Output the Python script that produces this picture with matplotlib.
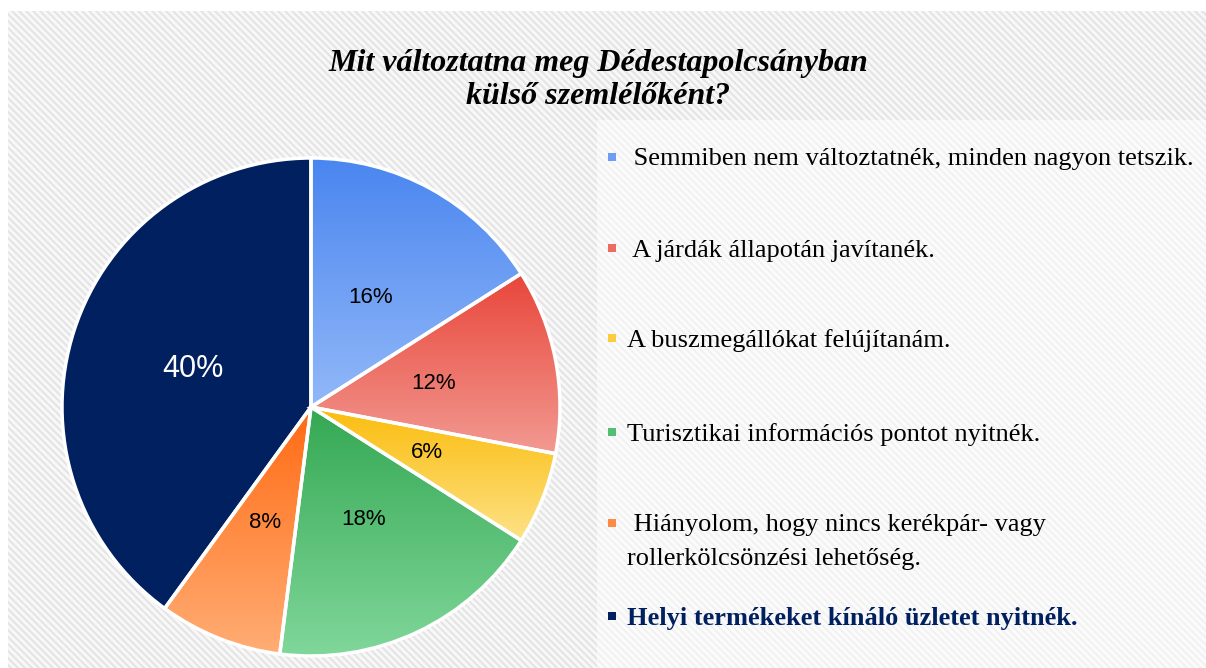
import numpy as np
import matplotlib
matplotlib.use("Agg")
import matplotlib.pyplot as plt
from matplotlib.colors import to_rgb
from matplotlib.patches import Rectangle

W, H = 1206, 668

# ── Data ──────────────────────────────────────────────
title = "Mit változtatna meg Dédestapolcsányban\nkülső szemlélőként?"
labels = [
    " Semmiben nem változtatnék, minden nagyon tetszik.",
    " A járdák állapotán javítanék.",
    "A buszmegállókat felújítanám.",
    "Turisztikai információs pontot nyitnék.",
    " Hiányolom, hogy nincs kerékpár- vagy\nrollerkölcsönzési lehetőség.",
    "Helyi termékeket kínáló üzletet nyitnék.",
]
shares = [16, 12, 6, 18, 8, 40]

# gradient colours per slice (top -> bottom)
top_colors = ["#4a86f0", "#e9463a", "#fbbc0c", "#34a853", "#ff6a12", "#00205f"]
bottom_colors = ["#92b8f8", "#f29a92", "#fde286", "#80d79a", "#ffad75", "#00205f"]
marker_colors = ["#6c9ff2", "#ec6c62", "#fccc40", "#56bd72", "#ff8a45", "#00205f"]


def px_x(x):
    return x / W


def px_y(y):
    return 1 - y / H


fig = plt.figure(figsize=(W / 100, H / 100), dpi=100)

# ── Striped background ────────────────────────────────
yy, xx = np.mgrid[0:H, 0:W]
stripe = ((xx - yy) % 7) < 3
bg = np.where(stripe, 0.9, 0.97)
legend_zone = (xx >= 597) & (yy >= 120)
bg = np.where(legend_zone, bg + (1 - bg) * 0.5, bg)
bg = np.where((xx < 8) | (yy < 11), 1.0, bg)
img = np.dstack([bg, bg, bg])
fig.figimage(img, xo=0, yo=0, origin="upper", zorder=-5)

# ── Pie ───────────────────────────────────────────────
cx, cy, r = 311, 407, 249
ax = fig.add_axes([px_x(cx - r), px_y(cy + r), 2 * r / W, 2 * r / H])
ax.set_zorder(2)
ax.set_axis_off()

wedges, texts, autotexts = ax.pie(
    shares,
    startangle=90,
    counterclock=False,
    autopct=lambda p: f"{p:.0f}%",
    pctdistance=0.5,
    wedgeprops=dict(edgecolor="white", linewidth=2.5, clip_on=False),
    textprops=dict(family="Liberation Sans", fontsize=16, color="black"),
)

for w, c_top, c_bot in zip(wedges, top_colors, bottom_colors):
    w.set_facecolor((0, 0, 0, 0))
    w.set_zorder(2)
    ext = w.get_path().get_extents()
    t = np.linspace(0, 1, 256)[:, None]
    grad = (1 - t) * np.array(to_rgb(c_top)) + t * np.array(to_rgb(c_bot))
    grad = grad[:, None, :]
    im = ax.imshow(grad, extent=[ext.x0, ext.x1, ext.y0, ext.y1],
                   origin="upper", aspect="auto", zorder=1,
                   interpolation="bilinear")
    im.set_clip_path(w)

for t in autotexts:
    t.set_zorder(3)
autotexts[-1].set_color("white")
autotexts[-1].set_fontsize(22)

ax.set_xlim(-1, 1)
ax.set_ylim(-1, 1)

# ── Title ─────────────────────────────────────────────
fig.text(px_x(598), px_y(80), title, ha="center", va="center",
         family="Liberation Serif", fontsize=23, fontweight="bold",
         style="italic", linespacing=1.2)

# ── Legend ────────────────────────────────────────────
entry_y = [157, 248, 338, 432, 523, 616]
for i, (label, col, y) in enumerate(zip(labels, marker_colors, entry_y)):
    fig.patches.append(Rectangle((px_x(608), px_y(y + 4)), 8 / W, 8 / H,
                                 transform=fig.transFigure, facecolor=col,
                                 edgecolor="none"))
    last = i == len(labels) - 1
    for k, line in enumerate(label.split("\n")):
        fig.text(px_x(627), px_y(y + k * 33), line, ha="left",
                 va="center_baseline", family="Liberation Serif",
                 fontsize=19, color="#002060" if last else "black",
                 fontweight="bold" if last else "normal")

fig.savefig("out.png", dpi=100)
